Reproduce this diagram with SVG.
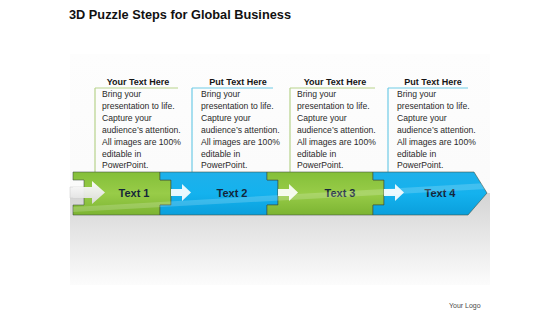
<svg xmlns="http://www.w3.org/2000/svg" width="560" height="315" viewBox="0 0 560 315">
<defs>
<linearGradient id="gGreen" x1="0" y1="0" x2="0" y2="1">
<stop offset="0" stop-color="#84bf39"/><stop offset="0.5" stop-color="#98cc48"/><stop offset="1" stop-color="#7cb432"/>
</linearGradient>
<linearGradient id="gBlue" x1="0" y1="0" x2="0" y2="1">
<stop offset="0" stop-color="#1fb0ea"/><stop offset="0.5" stop-color="#14b2ee"/><stop offset="1" stop-color="#0a9fdc"/>
</linearGradient>
<linearGradient id="gShadow" x1="0" y1="0" x2="0" y2="1">
<stop offset="0" stop-color="#d4d4d4"/><stop offset="0.35" stop-color="#e2e2e2"/><stop offset="1" stop-color="#fcfcfc"/>
</linearGradient>
<linearGradient id="gPanel" x1="0" y1="0" x2="0" y2="1">
<stop offset="0" stop-color="#fdfdfd"/><stop offset="1" stop-color="#f9f9f9"/>
</linearGradient>
<linearGradient id="gArrow" x1="0" y1="0" x2="0" y2="1">
<stop offset="0" stop-color="#ffffff"/><stop offset="1" stop-color="#dcdcdc"/>
</linearGradient>
<clipPath id="bandClip">
<path d="M73,172 H474 L487,193 L468,215 H73 Z"/>
</clipPath>
</defs>
<style>
.title{font-family:"Liberation Sans",Arial,sans-serif;font-weight:bold;font-size:13.5px;fill:#111}
.head{font-family:"Liberation Sans",Arial,sans-serif;font-weight:bold;font-size:9px;fill:#151515;text-anchor:middle}
.body{font-family:"Liberation Sans",Arial,sans-serif;font-size:8.6px;fill:#2a2a2a}
.lbl{font-family:"Liberation Sans",Arial,sans-serif;font-weight:bold;font-size:11px;fill:#15263a;text-anchor:middle}
.logo{font-family:"Liberation Sans",Arial,sans-serif;font-size:7px;fill:#4a4a4a}
.gline{stroke:#b7d38c;stroke-width:1.2;fill:none}
.bline{stroke:#6fcbe6;stroke-width:1.2;fill:none}
.seg{stroke:#3d4f3d;stroke-width:0.8;stroke-opacity:0.7}
.warrow{fill:#ffffff;opacity:0.9}
</style>
<rect width="560" height="315" fill="#ffffff"/>
<rect x="70" y="54" width="420" height="231" fill="url(#gPanel)"/>
<rect x="70" y="193" width="420" height="92" fill="url(#gShadow)"/>
<text class="title" x="69" y="18.5" textLength="222" lengthAdjust="spacingAndGlyphs">3D Puzzle Steps for Global Business</text>
<g id="box1">
<path class="gline" d="M95,88 H178 M95,88 V172"/>
<text class="head" x="138" y="85">Your Text Here</text>
<text class="body"><tspan x="102" y="97">Bring your</tspan><tspan x="102" y="109">presentation to life.</tspan><tspan x="102" y="121">Capture your</tspan><tspan x="102" y="133">audience’s attention.</tspan><tspan x="102" y="145">All images are 100%</tspan><tspan x="102" y="156.5">editable in</tspan><tspan x="102" y="168">PowerPoint.</tspan></text>
</g>
<g id="box2">
<path class="bline" d="M192,88 H273 M192,88 V172"/>
<text class="head" x="238" y="85">Put Text Here</text>
<text class="body"><tspan x="201" y="97">Bring your</tspan><tspan x="201" y="109">presentation to life.</tspan><tspan x="201" y="121">Capture your</tspan><tspan x="201" y="133">audience’s attention.</tspan><tspan x="201" y="145">All images are 100%</tspan><tspan x="201" y="156.5">editable in</tspan><tspan x="201" y="168">PowerPoint.</tspan></text>
</g>
<g id="box3">
<path class="gline" d="M290,88 H375 M290,88 V172"/>
<text class="head" x="335" y="85">Your Text Here</text>
<text class="body"><tspan x="297" y="97">Bring your</tspan><tspan x="297" y="109">presentation to life.</tspan><tspan x="297" y="121">Capture your</tspan><tspan x="297" y="133">audience’s attention.</tspan><tspan x="297" y="145">All images are 100%</tspan><tspan x="297" y="156.5">editable in</tspan><tspan x="297" y="168">PowerPoint.</tspan></text>
</g>
<g id="box4">
<path class="bline" d="M388,88 H468 M388,88 V172"/>
<text class="head" x="433" y="85">Put Text Here</text>
<text class="body"><tspan x="397" y="97">Bring your</tspan><tspan x="397" y="109">presentation to life.</tspan><tspan x="397" y="121">Capture your</tspan><tspan x="397" y="133">audience’s attention.</tspan><tspan x="397" y="145">All images are 100%</tspan><tspan x="397" y="156.5">editable in</tspan><tspan x="397" y="168">PowerPoint.</tspan></text>
</g>
<g id="lead">
<path d="M70,187 H92 V181 L105,192.5 L92,204 V198 H70 Z" fill="url(#gArrow)" stroke="#c8c8c8" stroke-width="0.5"/>
</g>
<g id="step1">
<path class="seg" fill="url(#gGreen)" d="M73,172 H160 V180 H171 V205 H160 V215 H73 V205 H84 V180 H73 Z"/>
<path d="M70,187 H92 V181 L105,192.5 L92,204 V198 H70 Z" fill="url(#gArrow)" opacity="0.95" clip-path="url(#bandClip)"/>
<text class="lbl" x="134" y="197">Text 1</text>
</g>
<g id="step2">
<path class="seg" fill="url(#gBlue)" d="M160,172 H267 V180 H278 V205 H267 V215 H160 V205 H171 V180 H160 Z"/>
<text class="lbl" x="232" y="197">Text 2</text>
</g>
<g id="step3">
<path class="seg" fill="url(#gGreen)" d="M267,172 H373 V180 H384 V205 H373 V215 H267 V205 H278 V180 H267 Z"/>
<text class="lbl" x="340" y="197">Text 3</text>
</g>
<g id="step4">
<path class="seg" fill="url(#gBlue)" d="M373,172 H474 L487,193 L468,215 H373 V205 H384 V180 H373 Z"/>
<text class="lbl" x="440" y="197">Text 4</text>
</g>
<g id="connectors">
<path class="warrow" d="M171,189 H182 V184 L191,192.5 L182,201 V196 H171 Z"/>
<path class="warrow" d="M278,189 H289 V184 L298,192.5 L289,201 V196 H278 Z"/>
<path class="warrow" d="M384,189 H395 V184 L404,192.5 L395,201 V196 H384 Z"/>
</g>
<g clip-path="url(#bandClip)">
<path d="M73,207 L487,183 L487,189 L73,212 Z" fill="#ffffff" opacity="0.18"/>
</g>
<text class="logo" x="449" y="307.5">Your Logo</text>
</svg>
